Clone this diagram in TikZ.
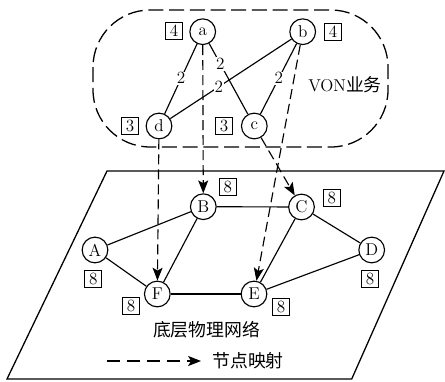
\documentclass[tikz,border=0pt]{standalone}
\usepackage{fontspec}
\newfontfamily\cjk{Noto Sans CJK SC}
\usetikzlibrary{arrows.meta}
\tikzset{
  vnode/.style={circle, draw, line width=0.8pt, fill=white, minimum size=18pt, inner sep=0pt, font=\fontsize{12}{13}\selectfont},
  capbox/.style={draw, line width=0.7pt, minimum size=12pt, inner sep=0pt, font=\fontsize{12}{13}\selectfont},
  link/.style={line width=0.8pt},
  wlabel/.style={fill=white, inner sep=0.6pt, font=\fontsize{12}{13}\selectfont},
  maparrow/.style={line width=0.8pt, dash pattern=on 7pt off 3.5pt, -{Stealth[length=9pt, width=7pt, inset=2pt]}},
  cjklabel/.style={font=\cjk\fontsize{12.5}{14}\selectfont},
}
\begin{document}
\begin{tikzpicture}[x=0.7pt, y=-0.7pt]
\useasboundingbox (0,0) rectangle (445,381);

% physical substrate plane
\draw[line width=0.9pt] (107,171) -- (444,171) -- (351.7,379) -- (7,379) -- cycle;

% VON request boundary
\draw[line width=0.9pt, dash pattern=on 10.5pt off 4pt, rounded corners=40pt]
  (93,10) rectangle (388,147);
\node[anchor=center] (vonlbl) at (345,85) {\fontsize{12}{13}\selectfont VON\cjk\fontsize{12.5}{14}\selectfont 业务};

% virtual nodes
\node[vnode] (a) at (202.7,31.7) {a};
\node[vnode] (b) at (302.7,31.7) {b};
\node[vnode] (d) at (159,126) {d};
\node[vnode] (c) at (254.3,126) {c};
\node[capbox] (ca) at (174,31) {4};
\node[capbox] (cb) at (333,31.7) {4};
\node[capbox] (cd) at (130,126) {3};
\node[capbox] (cc) at (224,126) {3};

% virtual links with bandwidth demands
\draw[link] (a) -- node[wlabel, pos=0.49] {2} (d);
\draw[link] (a) -- node[wlabel, pos=0.29] {2} (c);
\draw[link] (b) -- node[wlabel, pos=0.6] {2} (d);
\draw[link] (b) -- node[wlabel, pos=0.49] {2} (c);

% physical nodes
\node[vnode] (A) at (95,250) {A};
\node[vnode] (B) at (203.3,206.7) {B};
\node[vnode] (C) at (301.5,207) {C};
\node[vnode] (D) at (371.7,250) {D};
\node[vnode] (F) at (157.3,294) {F};
\node[vnode] (E) at (254,294) {E};
\node[capbox] (cA) at (93.3,279) {8};
\node[capbox] (cB) at (227.7,186.7) {8};
\node[capbox] (cC) at (331.7,197.7) {8};
\node[capbox] (cD) at (370,279) {8};
\node[capbox] (cF) at (131,306) {8};
\node[capbox] (cE) at (281,306.7) {8};

% physical links
\draw[link] (A) -- (B);
\draw[link] (A) -- (F);
\draw[link] (B) -- (C);
\draw[link] (B) -- (F);
\draw[link] (C) -- (E);
\draw[link] (C) -- (D);
\draw[link] (F) -- (E);
\draw[link] (E) -- (D);

\node[cjklabel] (sublbl) at (206.7,330) {底层物理网络};

% node mapping
\draw[maparrow] (a) -- (B);
\draw[maparrow] (d) -- (F);
\draw[maparrow] (b) -- (E);
\draw[maparrow] (c) -- (C);

% legend
\coordinate (lg1) at (107,361);
\coordinate (lg2) at (201,361);
\draw[line width=0.8pt, dash pattern=on 9pt off 5pt, -{Stealth[length=9pt, width=7pt, inset=2pt]}] (lg1) -- (lg2);
\node[cjklabel] (lgtxt) at (248,361) {节点映射};
\end{tikzpicture}
\end{document}
